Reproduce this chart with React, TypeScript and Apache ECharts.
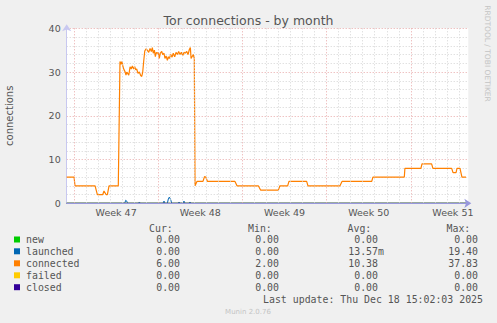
import React, { useEffect, useRef } from "react";
import * as echarts from "echarts";

// ---- data (x = days since Monday of Week 47) ----
const xMin = -0.61;
const xMax = 32.78;
const weekStartDays = [0, 7, 14, 21, 28];
const weekLabelDays = [3.5, 10.5, 17.5, 24.5, 31.5];
const weekLabels = ["Week 47", "Week 48", "Week 49", "Week 50", "Week 51"];
const yMax = 40;
const yInterval = 10;

const connected: [number, number][] = [
  [-0.61, 6], [0, 6], [0.08, 4], [1.75, 4], [1.94, 2], [2.39, 2], [2.49, 2.8], [2.66, 2],
  [2.77, 2], [2.91, 4], [3.68, 4], [3.82, 32.4], [3.91, 31.8], [3.99, 32.4], [4.07, 31.2],
  [4.16, 30.5], [4.24, 30.1], [4.32, 29.3], [4.38, 30], [4.46, 29.7], [4.55, 29.3], [4.66, 31.2],
  [4.76, 30.7], [4.85, 31.4], [4.96, 30.7], [5.05, 31.2], [5.13, 30.5], [5.21, 30.7], [5.32, 29.7],
  [5.43, 30], [5.54, 29.2], [5.63, 29.0], [5.71, 30], [5.79, 32.4], [5.88, 34.8], [5.99, 35.3],
  [6.09, 35], [6.21, 34.5], [6.32, 35.4], [6.43, 34.7], [6.51, 35.6], [6.59, 34.3], [6.68, 35],
  [6.76, 33.5], [6.84, 34.5], [6.92, 34.3], [7.01, 34.5], [7.09, 33.1], [7.17, 34.3], [7.29, 34.7],
  [7.37, 34], [7.48, 34.3], [7.56, 33.1], [7.65, 33.7], [7.76, 32.7], [7.84, 33.5], [7.92, 33.1],
  [8.04, 34], [8.15, 33.4], [8.25, 34.3], [8.37, 33.5], [8.48, 34.5], [8.59, 34], [8.7, 34.7],
  [8.81, 34], [8.92, 34.5], [9.04, 33.8], [9.14, 34.5], [9.25, 34.3], [9.37, 34.7], [9.48, 34],
  [9.58, 35.1], [9.67, 35.6], [9.73, 33.1], [9.81, 33.5], [9.92, 34], [10.0, 33.1], [10.06, 4],
  [10.22, 5], [10.72, 5], [10.85, 6.1], [10.95, 6], [11.1, 5], [13.38, 5], [13.55, 4], [15.32, 4],
  [15.52, 3], [16.98, 3], [17.12, 4], [17.76, 4], [17.87, 5], [19.34, 5], [19.45, 4], [22.11, 4],
  [22.28, 5], [24.75, 5], [24.85, 6], [27.46, 6], [27.51, 8], [28.84, 8], [28.93, 9], [29.73, 9],
  [29.84, 8], [31.4, 8], [31.51, 7], [31.76, 7], [31.84, 8], [32.09, 8], [32.25, 6], [32.59, 6],
];

const launched: [number, number][] = [
  [-0.61, 0], [4.21, 0], [4.3, 0.7], [4.38, 0.5], [4.46, 0], [5.35, 0], [5.43, 0.3], [5.51, 0],
  [7.4, 0], [7.48, 0.5], [7.56, 0], [7.76, 0], [7.84, 1.0], [7.92, 1.4], [8.04, 0.8], [8.12, 0],
  [8.65, 0], [8.73, 0.3], [8.81, 0], [9.06, 0], [9.14, 0.5], [9.23, 0], [9.56, 0], [9.64, 0.3],
  [9.73, 0], [32.59, 0],
];
const newConn: [number, number][] = [[-0.61, 0], [32.59, 0]];
const failed: [number, number][] = [[-0.61, 0], [32.59, 0]];
const closed: [number, number][] = [[-0.61, 0], [32.59, 0]];

const legendNames = ["new", "launched", "connected", "failed", "closed"];
const legendColors = ["#00CC00", "#0066B3", "#FF8000", "#FFCC00", "#330099"];
const curValues = ["0.00", "0.00", "6.00", "0.00", "0.00"];
const minValues = ["0.00", "0.00", "2.00", "0.00", "0.00"];
const avgValues = ["0.00", "13.57m", "10.38", "0.00", "0.00"];
const maxValues = ["0.00", "19.40", "37.83", "0.00", "0.00"];
const columnHeaders = ["Cur:", "Min:", "Avg:", "Max:"];
const lastUpdate = "Last update: Thu Dec 18 15:02:03 2025";
const title = "Tor connections - by month";
const yName = "connections";
const sideText = "RRDTOOL / TOBI OETIKER";
const footer = "Munin 2.0.76";

export default function App() {
  const ref = useRef<HTMLDivElement>(null);
  useEffect(() => {
    document.body.style.margin = "0";
    const chart = echarts.init(ref.current!, undefined, { renderer: "svg" });

    const mono = '"DejaVu Sans Mono", monospace';
    const sans = '"DejaVu Sans", sans-serif';
    const textCol = "#555";
    const monoSize = 9.9;
    const rowY = [239.5, 251.3, 263.3, 275.3, 287.2];
    const headerY = 228;
    const colRight = [180, 279, 378, 478];
    const headerLeft = [149, 248, 347.5, 446.5];
    const charW = 5.96;
    const cols = [curValues, minValues, avgValues, maxValues];

    const minorDays: number[] = [];
    for (let d = 1; d < xMax; d++) if (weekStartDays.indexOf(d) < 0) minorDays.push(d);

    const txt = (text: string, x: number, y: number, align: string, font: string, fill = textCol, extra: any = {}) => ({
      type: "text",
      x,
      y,
      ...extra,
      style: {
        text,
        font,
        fill,
        align,
        verticalAlign: "middle",
        textAlign: align,
        textVerticalAlign: "middle",
      },
    });

    const graphics: any[] = [];
    legendNames.forEach((n, i) => {
      graphics.push({
        type: "rect",
        shape: { x: 14, y: rowY[i] - 3, width: 6, height: 6 },
        style: { fill: legendColors[i] },
      });
      graphics.push(txt(n, 26, rowY[i], "left", `${monoSize}px ${mono}`));
      cols.forEach((c, j) => {
        const v = c[i];
        const suffix = /[a-zA-Z]$/.test(v);
        graphics.push(txt(v, colRight[j] + (suffix ? charW : 0), rowY[i], "right", `${monoSize}px ${mono}`));
      });
    });
    columnHeaders.forEach((h, j) => graphics.push(txt(h, headerLeft[j], headerY, "left", `${monoSize}px ${mono}`)));
    graphics.push(txt(lastUpdate, 483, 299.5, "right", `${monoSize}px ${mono}`));
    graphics.push(txt(footer, 248, 312, "center", `7px ${sans}`, "#c4c4c4"));
    graphics.push(txt(sideText, 487, 53.5, "center", `7.5px ${sans}`, "#c4c4c4", { rotation: -Math.PI / 2 }));

    const lineSeries = (name: string, data: [number, number][], color: string, width = 1) => ({
      name,
      type: "line",
      data,
      showSymbol: false,
      symbol: "none",
      z: 3,
      lineStyle: { color, width },
      itemStyle: { color },
    });

    chart.setOption({
      animation: false,
      backgroundColor: "#f0f0f0",
      title: {
        text: title,
        left: "center",
        top: 9,
        textStyle: { fontFamily: sans, fontSize: 12.5, fontWeight: "normal", color: textCol },
      },
      grid: {
        left: 66.7,
        top: 28.3,
        width: 401.6,
        height: 175,
        show: true,
        backgroundColor: "#ffffff",
        borderWidth: 0,
        containLabel: false,
        outerBoundsMode: "none",
      },
      xAxis: {
        type: "value",
        min: xMin,
        max: xMax,
        z: 5,
        splitLine: { show: false },
        axisTick: { show: false },
        axisLine: {
          show: true,
          onZero: false,
          symbol: ["none", "arrow"],
          symbolSize: [7, 7],
          symbolOffset: [0, 3],
          lineStyle: { color: "#9898dc", width: 1 },
        },
        axisLabel: {
          customValues: weekLabelDays,
          formatter: (v: number) => {
            const i = weekLabelDays.indexOf(v);
            return i >= 0 ? weekLabels[i] : "";
          },
          margin: 4,
          fontFamily: sans,
          fontSize: 9.5,
          color: textCol,
        },
      },
      yAxis: {
        type: "value",
        min: 0,
        max: yMax,
        interval: yInterval,
        name: yName,
        nameLocation: "middle",
        nameGap: 52,
        nameTextStyle: { fontFamily: sans, fontSize: 10, color: textCol },
        axisLine: {
          show: true,
          onZero: false,
          symbol: ["none", "arrow"],
          symbolSize: [7, 7],
          symbolOffset: [0, 4],
          lineStyle: { color: "#c8c8f0", width: 1 },
        },
        axisTick: { show: false },
        axisLabel: { fontFamily: sans, fontSize: 9.5, color: textCol, margin: 6 },
        splitLine: { show: true, lineStyle: { color: "#e8a8a8", type: [1, 2], width: 1 } },
        minorTick: { show: false, splitNumber: 5 },
        minorSplitLine: { show: true, lineStyle: { color: "#d4d4d4", type: [1, 2], width: 1 } },
      },
      graphic: graphics,
      series: [
        {
          name: "grid",
          type: "line",
          data: [[xMin, 0]],
          showSymbol: false,
          symbol: "none",
          lineStyle: { opacity: 0 },
          z: 1,
          silent: true,
          markLine: {
            silent: true,
            symbol: "none",
            label: { show: false },
            animation: false,
            data: [
              ...minorDays.map((d) => ({ xAxis: d, lineStyle: { color: "#d4d4d4", type: [1, 2], width: 1 } })),
              ...weekStartDays.map((d) => ({ xAxis: d, lineStyle: { color: "#e8a8a8", type: [1, 2], width: 1 } })),
            ],
          },
        },
        lineSeries("new", newConn, legendColors[0]),
        lineSeries("launched", launched, legendColors[1]),
        lineSeries("connected", connected, legendColors[2], 1.2),
        lineSeries("failed", failed, legendColors[3]),
        lineSeries("closed", closed, legendColors[4]),
      ],
    });
    return () => chart.dispose();
  }, []);
  return <div ref={ref} style={{ width: 497, height: 323 }} />;
}
